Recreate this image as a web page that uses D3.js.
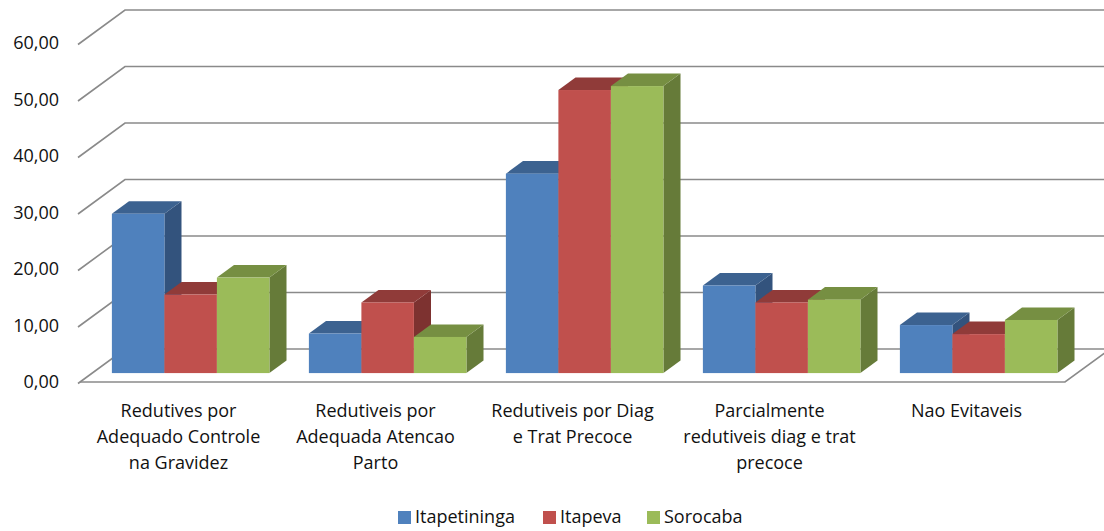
<!DOCTYPE html>
<html>
<head>
<meta charset="utf-8">
<title>Obitos evitaveis</title>
<script src="https://cdnjs.cloudflare.com/ajax/libs/d3/7.8.5/d3.min.js"></script>
<style>
    body { margin: 0; background: #fff; }
    svg { font-family: "Open Sans", sans-serif; }
    .grid { fill: none; stroke: #8a8a8a; stroke-width: 1.6; }
    .tick-label { font-size: 18px; fill: #111; }
    .cat-label { font-size: 18px; fill: #111; }
    .legend text { font-size: 18px; fill: #111; }
</style>
</head>
<body>
<script>
    // data
    var categories = [
        ["Redutives por", "Adequado Controle", "na Gravidez"],
        ["Redutiveis por", "Adequada Atencao", "Parto"],
        ["Redutiveis por Diag", "e Trat Precoce"],
        ["Parcialmente", "redutiveis diag e trat", "precoce"],
        ["Nao Evitaveis"]
    ];
    var series = ["Itapetininga", "Itapeva", "Sorocaba"];
    var itapetininga = [28.2, 7.0, 35.3, 15.5, 8.5];
    var itapeva = [13.9, 12.5, 50.1, 12.5, 6.9];
    var sorocaba = [16.9, 6.4, 50.8, 13.0, 9.4];
    var yTicks = [0, 10, 20, 30, 40, 50, 60];

    var values = [itapetininga, itapeva, sorocaba];
    var colors = {
        front: ["#4f81bd", "#c0504d", "#9bbb59"],
        top: ["#3c6290", "#903b39", "#768f42"],
        side: ["#33537d", "#7d3230", "#667b39"]
    };

    var width = 1104, height = 531;

    // oblique depth: full floor depth moves right/up by this much
    var depthX = 45, depthY = -33;
    var barFront = 0.27, barBack = 0.65;

    var svg = d3.select("body").append("svg")
        .attr("width", width)
        .attr("height", height);

    var x = d3.scaleBand()
        .domain(d3.range(categories.length))
        .range([80, 1065])
        .paddingInner(0)
        .paddingOuter(0);

    var xs = d3.scaleBand()
        .domain(series)
        .range([0, x.bandwidth()])
        .paddingInner(0)
        .paddingOuter(0.376);

    var y = d3.scaleLinear()
        .domain([0, 60])
        .range([382, 43]);

    // gridlines: diagonal on the side wall, then flat on the back wall
    svg.append("g").selectAll("path")
        .data(yTicks)
        .enter().append("path")
        .attr("class", "grid")
        .attr("d", function(d) {
            var y0 = y(d);
            return "M" + 78 + "," + (y0 + 1.5) +
                "L" + (80 + depthX) + "," + (y0 + depthY) +
                "L" + width + "," + (y0 + depthY);
        });

    // floor front edge and right edge
    svg.append("path")
        .attr("class", "grid")
        .attr("d", "M80," + y(0) + "L" + x.range()[1] + "," + y(0) +
            "L" + (x.range()[1] + depthX) + "," + (y(0) + depthY));

    // y axis labels
    svg.append("g").selectAll("text")
        .data(yTicks)
        .enter().append("text")
        .attr("class", "tick-label")
        .attr("x", 59)
        .attr("y", function(d) { return y(d); })
        .attr("dy", "0.36em")
        .attr("text-anchor", "end")
        .text(function(d) { return d3.format(".2f")(d).replace(".", ","); });

    // bars
    var fx = barFront * depthX, fy = barFront * depthY;
    var bx = barBack * depthX, by = barBack * depthY;
    var bars = svg.append("g");
    categories.forEach(function(c, i) {
        series.forEach(function(s, j) {
            var v = values[j][i];
            var x0 = x(i) + xs(s) + fx, x1 = x0 + xs.bandwidth();
            var yb = y(0) + fy, yt = y(v) + fy;
            var ddx = bx - fx, ddy = by - fy;
            var g = bars.append("g");
            g.append("path")
                .attr("fill", colors.side[j])
                .attr("d", "M" + x1 + "," + yt + "L" + (x1 + ddx) + "," + (yt + ddy) +
                    "L" + (x1 + ddx) + "," + (yb + ddy) + "L" + x1 + "," + yb + "Z");
            g.append("path")
                .attr("fill", colors.top[j])
                .attr("d", "M" + x0 + "," + yt + "L" + (x0 + ddx) + "," + (yt + ddy) +
                    "L" + (x1 + ddx) + "," + (yt + ddy) + "L" + x1 + "," + yt + "Z");
            g.append("rect")
                .attr("fill", colors.front[j])
                .attr("x", x0)
                .attr("y", yt)
                .attr("width", x1 - x0)
                .attr("height", yb - yt);
        });
    });

    // category labels
    var catG = svg.append("g").selectAll("text")
        .data(categories)
        .enter().append("text")
        .attr("class", "cat-label")
        .attr("text-anchor", "middle")
        .attr("x", function(d, i) { return x(i) + x.bandwidth() / 2; })
        .attr("y", 417);
    catG.selectAll("tspan")
        .data(function(d) { return d; })
        .enter().append("tspan")
        .attr("x", function() { return d3.select(this.parentNode).attr("x"); })
        .attr("dy", function(d, k) { return k === 0 ? 0 : 26; })
        .text(function(d) { return d; });

    // legend
    var legendX = [398, 543, 647];
    var legend = svg.append("g").attr("class", "legend")
        .selectAll("g")
        .data(series)
        .enter().append("g")
        .attr("transform", function(d, j) { return "translate(" + legendX[j] + ",511)"; });
    legend.append("rect")
        .attr("width", 13)
        .attr("height", 13)
        .attr("fill", function(d, j) { return colors.front[j]; });
    legend.append("text")
        .attr("x", 17)
        .attr("y", 12)
        .text(function(d) { return d; });
</script>
</body>
</html>
